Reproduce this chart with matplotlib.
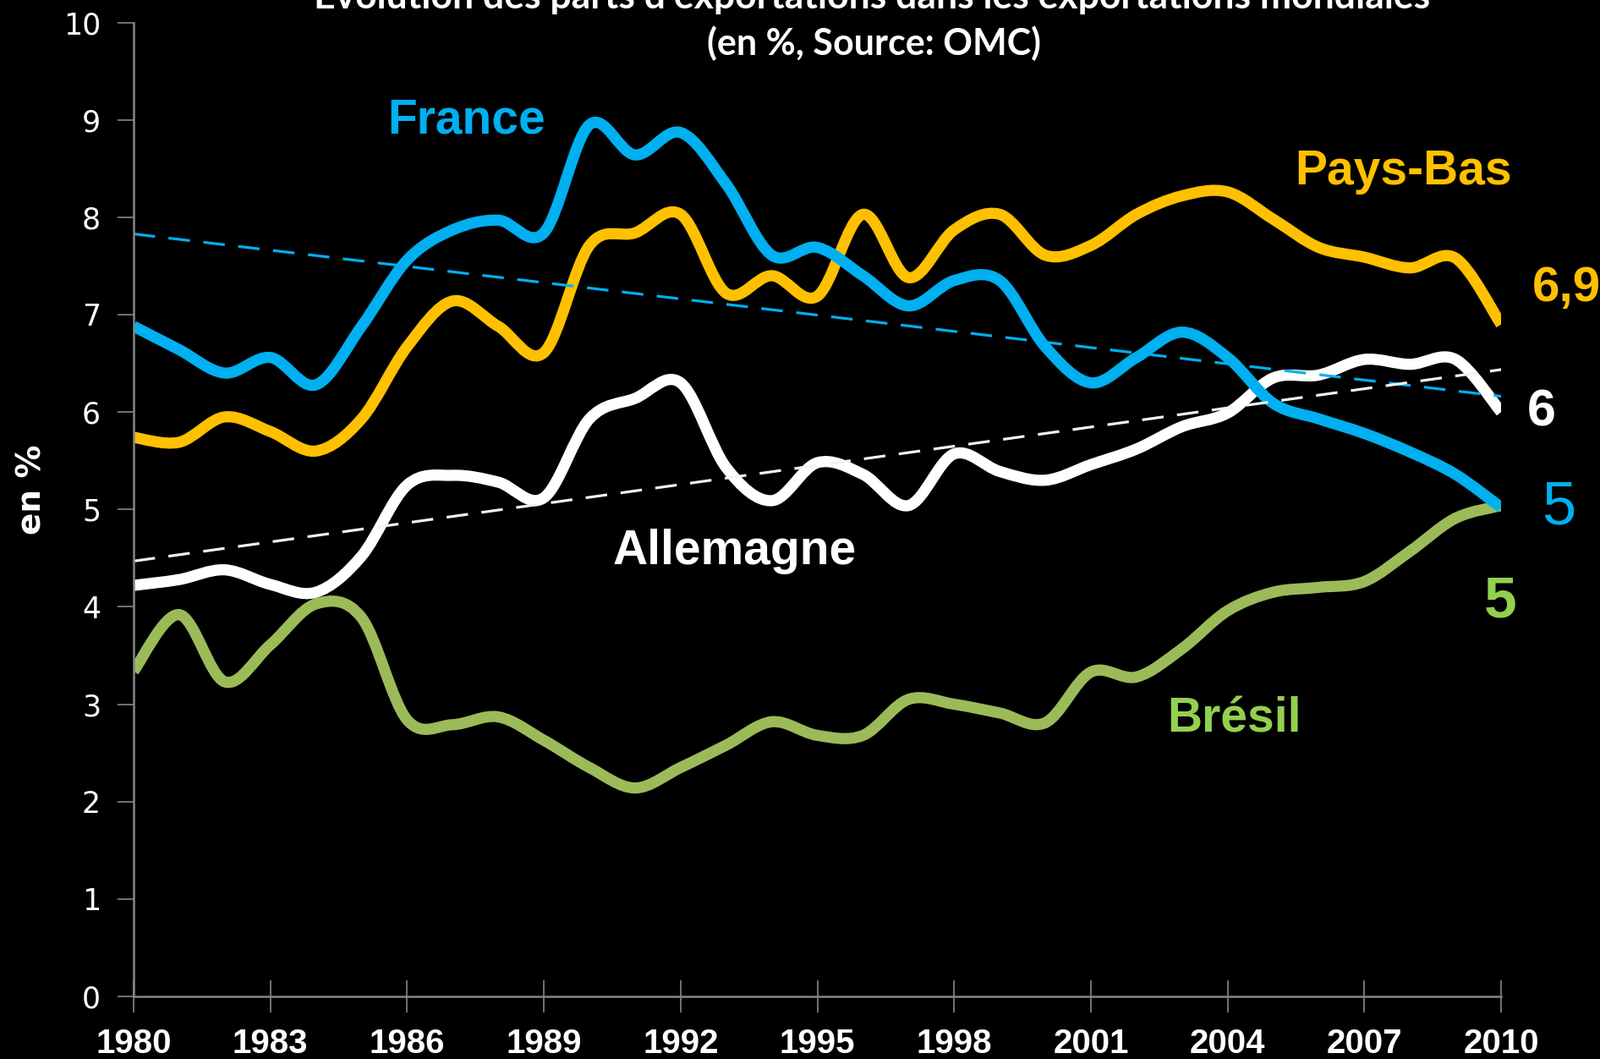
import numpy as np
import matplotlib
matplotlib.use('Agg')
import matplotlib.pyplot as plt
from matplotlib.path import Path
from matplotlib.patches import PathPatch

############# Data (export shares, %) #############

years = list(range(1980, 2011))

france = [6.88, 6.64, 6.40, 6.56, 6.28, 6.88, 7.56, 7.87, 7.97, 7.84,
          8.95, 8.64, 8.87, 8.34, 7.61, 7.69, 7.40, 7.09, 7.35, 7.35,
          6.67, 6.30, 6.56, 6.82, 6.56, 6.09, 5.93, 5.78, 5.59, 5.36, 5.02]

pays_bas = [5.74, 5.69, 5.95, 5.80, 5.60, 5.93, 6.67, 7.14, 6.88, 6.61,
            7.71, 7.84, 8.03, 7.22, 7.40, 7.19, 8.03, 7.38, 7.87, 8.03,
            7.61, 7.71, 8.03, 8.22, 8.26, 7.98, 7.69, 7.59, 7.48, 7.58, 6.90]

allemagne = [4.22, 4.28, 4.38, 4.23, 4.15, 4.52, 5.25, 5.35, 5.28, 5.12,
             5.93, 6.14, 6.30, 5.43, 5.09, 5.48, 5.36, 5.04, 5.57, 5.39,
             5.30, 5.46, 5.62, 5.85, 5.99, 6.35, 6.38, 6.54, 6.49, 6.54, 6.00]

bresil = [3.34, 3.92, 3.23, 3.61, 4.03, 3.89, 2.84, 2.79, 2.87, 2.63,
          2.35, 2.14, 2.35, 2.58, 2.82, 2.68, 2.68, 3.05, 3.00, 2.91,
          2.81, 3.33, 3.28, 3.57, 3.96, 4.15, 4.20, 4.26, 4.57, 4.91, 5.04]

xticks = list(range(1980, 2011, 3))
yticks = list(range(0, 11))

names = ['France', 'Pays-Bas', 'Allemagne', 'Brésil']
end_labels = ['5', '6,9', '6', '5']

blue = '#00B0F0'
orange = '#FFC000'
white = '#FFFFFF'
green = '#9BBB59'
green_txt = '#92D050'

narrow = ['Liberation Sans', 'DejaVu Sans']

# Smooth line like the spreadsheet ("smoothed line") with bezier segments

def smooth_path(x, y):
	x = np.asarray(x, float)
	y = np.asarray(y, float)
	n = len(x)
	verts = [(x[0], y[0])]
	codes = [Path.MOVETO]
	for i in range(n - 1):
		i0 = max(i - 1, 0)
		i3 = min(i + 2, n - 1)
		c1 = (x[i] + (x[i + 1] - x[i0]) / 6.0, y[i] + (y[i + 1] - y[i0]) / 6.0)
		c2 = (x[i + 1] - (x[i3] - x[i]) / 6.0, y[i + 1] - (y[i3] - y[i]) / 6.0)
		verts += [c1, c2, (x[i + 1], y[i + 1])]
		codes += [Path.CURVE4] * 3
	return Path(verts, codes)

############# Figure #############

fig = plt.figure(figsize=(18.92, 12.52), dpi=100, facecolor='black')
ax = fig.add_axes([0.0835, 0.0591, 0.8547, 0.9197])
ax.set_facecolor('black')

for serie, col in [(bresil, green), (allemagne, white), (pays_bas, orange), (france, blue)]:
	p = PathPatch(smooth_path(years, serie), facecolor='none', edgecolor=col,
	              linewidth=9.5, capstyle='butt', joinstyle='round')
	ax.add_patch(p)

# linear trend lines
yr = np.array(years, float)
for serie, col in [(france, blue), (allemagne, '#F2F2F2')]:
	a, b = np.polyfit(yr, serie, 1)
	ax.plot(yr, a * yr + b, color=col, linewidth=2.3, dashes=(8, 5))

ax.set_xlim(1980, 2010)
ax.set_ylim(0, 10)

for s in ['top', 'right']:
	ax.spines[s].set_visible(False)
for s in ['left', 'bottom']:
	ax.spines[s].set_color('#868686')
	ax.spines[s].set_linewidth(1.8)

ax.set_xticks(xticks)
ax.set_yticks(yticks)
ax.set_xticklabels([str(t) for t in xticks], family=narrow, fontweight='bold', fontsize=29, color='white')
ax.set_yticklabels([str(t) for t in yticks], family='DejaVu Sans', fontsize=25, color='white')
ax.tick_params(axis='x', direction='inout', length=27, width=1.2, color='#868686', pad=13)
ax.tick_params(axis='y', direction='out', length=14, width=1.2, color='#868686', pad=14)

ax.set_ylabel('en %', fontsize=28, fontweight='bold', color='white', family='DejaVu Sans')
ax.yaxis.set_label_coords(-0.0625, 0.52)

############# Labels #############

ax.text(1987.3, 8.99, names[0], color=blue, fontsize=41, fontweight='bold', family=narrow, ha='center', va='center')
ax.text(2007.85, 8.47, names[1], color=orange, fontsize=41, fontweight='bold', family=narrow, ha='center', va='center')
ax.text(1993.19, 4.57, names[2], color=white, fontsize=41, fontweight='bold', family=narrow, ha='center', va='center')
ax.text(2004.15, 2.84, names[3], color=green_txt, fontsize=41, fontweight='bold', family=narrow, ha='center', va='center')

ax.text(2011.27, 5.01, end_labels[0], color=blue, fontsize=52, family=narrow, ha='center', va='center', clip_on=False)
ax.text(2011.43, 7.27, end_labels[1], color=orange, fontsize=42, fontweight='bold', family=narrow, ha='center', va='center', clip_on=False)
ax.text(2010.89, 5.99, end_labels[2], color=white, fontsize=44, fontweight='bold', family=narrow, ha='center', va='center', clip_on=False)
ax.text(2009.98, 4.05, end_labels[3], color=green_txt, fontsize=50, fontweight='bold', family=narrow, ha='center', va='center', clip_on=False)

############# Title (top line is cut by the frame) #############

fig.text(0.545, 0.992, 'Évolution des parts d’exportations dans les exportations mondiales',
         color='white', fontsize=32, fontweight='bold', family=['Lato', 'DejaVu Sans'], ha='center', va='baseline')
fig.text(0.5465, 0.948, '(en %, Source: OMC)',
         color='white', fontsize=31, fontweight='bold', family=['Lato', 'DejaVu Sans'], ha='center', va='baseline')

fig.savefig('out.png', dpi=100, facecolor='black')
